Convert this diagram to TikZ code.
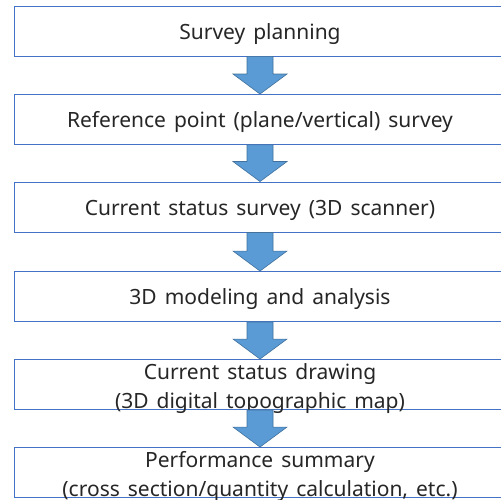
\documentclass[tikz,border=0pt]{standalone}
\usepackage{fontspec}
\setmainfont{Noto Sans}
\usetikzlibrary{calc}
\definecolor{boxblue}{HTML}{4472C4}
\definecolor{arrfill}{HTML}{5B9BD5}
\definecolor{arrline}{HTML}{41719C}

% wider gaps between words
\newcommand\widewords{\spaceskip=8pt plus 1pt\relax}
% strut that lowers the text a little inside its box
\newcommand\lowerstrut{\rule{0pt}{23.5pt}}

% block arrow from the bottom of one box to the top of the next
\newcommand\flowstep[2]{%
  \filldraw[flowarrow] let \p1=(#1.south), \p2=(#2.north) in
    (\x1-13pt,\y1) -- (\x1+13pt,\y1) -- (\x1+13pt,\y2+20pt) -- (\x1+27pt,\y2+20pt)
    -- (\x1,\y2) -- (\x1-27pt,\y2+20pt) -- (\x1-13pt,\y2+20pt) -- cycle;}

\begin{document}
\begin{tikzpicture}[x=1pt,y=-1pt,
  stepbox/.style={draw=boxblue, line width=0.9pt, minimum width=492pt,
    minimum height=50pt, inner xsep=0pt, inner ysep=-14pt, align=center,
    text=black!85, font=\fontsize{21}{29}\selectfont\widewords},
  flowarrow/.style={fill=arrfill, draw=arrline, line width=0.6pt}]
\useasboundingbox (0,0) rectangle (501,500);
\node[stepbox] (s1) at (260,31)    {\rule{0pt}{21.5pt}Survey planning};
\node[stepbox] (s2) at (260,119.5) {\rule{0pt}{21.5pt}Reference point (plane/vertical) survey};
\node[stepbox] (s3) at (260,207)   {\rule{0pt}{21.5pt}Current status survey (3D scanner)};
\node[stepbox] (s4) at (260,296.5) {\rule{0pt}{21.5pt}3D modeling and analysis};
\node[stepbox] (s5) at (260,384.5) {\lowerstrut Current status drawing\\(3D digital topographic map)};
\node[stepbox] (s6) at (260,472.5) {\lowerstrut Performance summary\\(cross section/quantity calculation, etc.)};
\flowstep{s1}{s2}
\flowstep{s2}{s3}
\flowstep{s3}{s4}
\flowstep{s4}{s5}
\flowstep{s5}{s6}
\end{tikzpicture}
\end{document}
